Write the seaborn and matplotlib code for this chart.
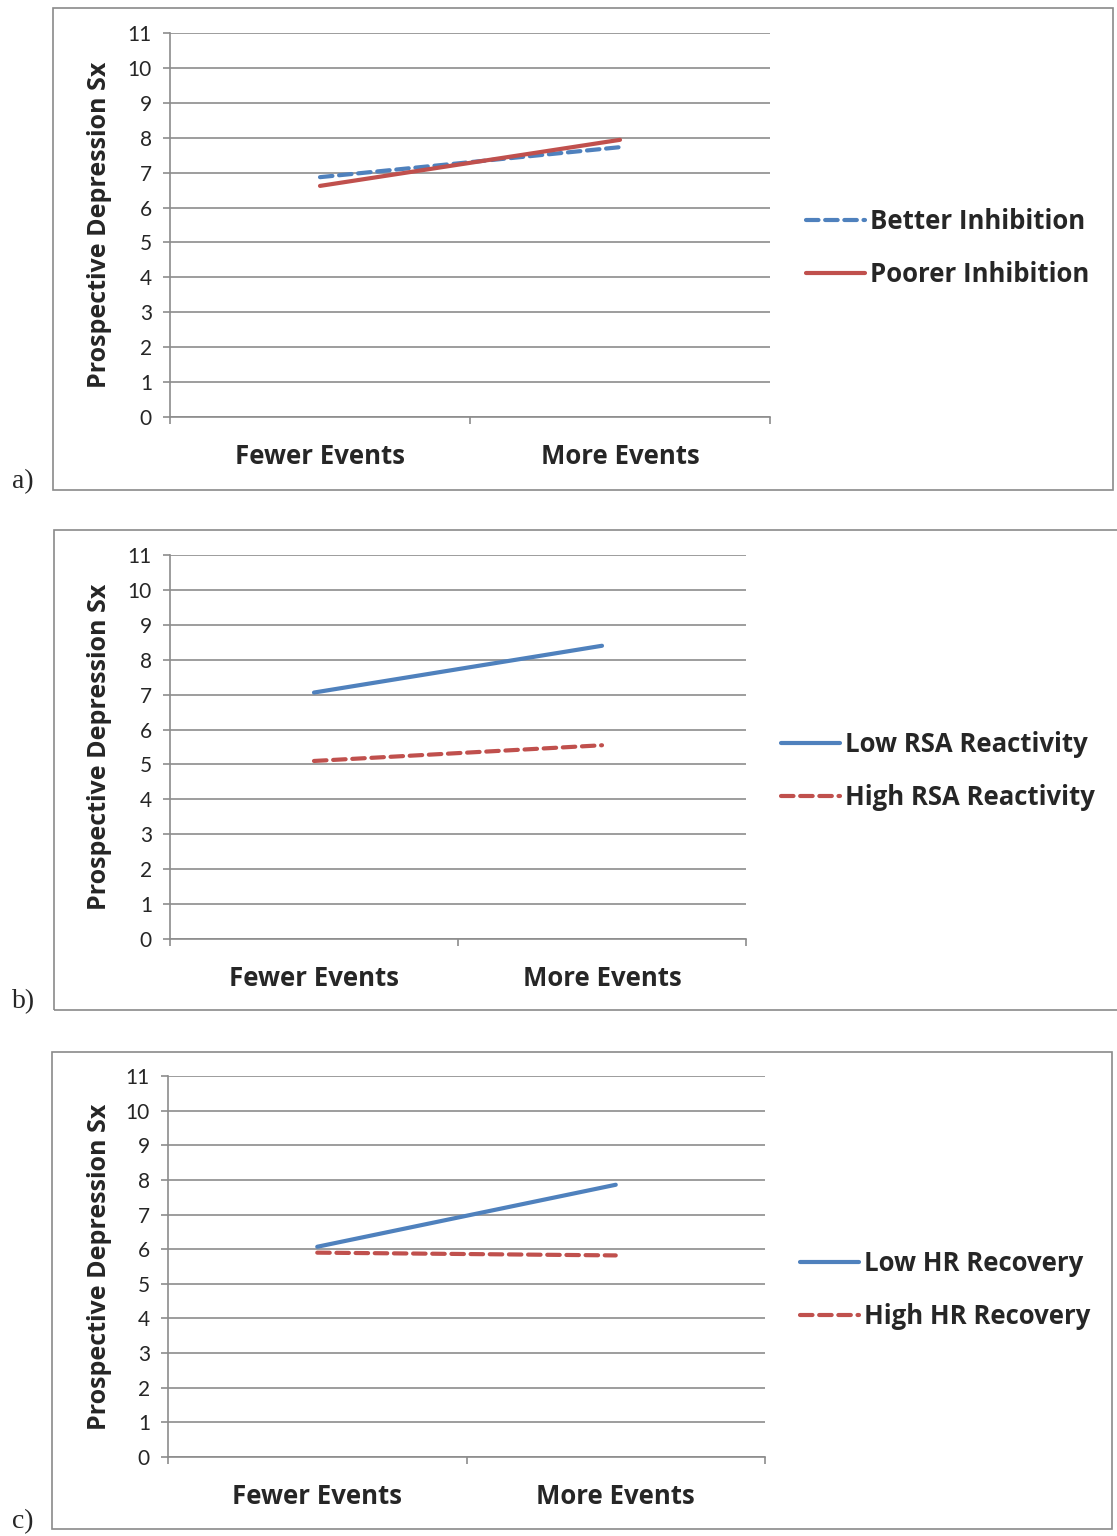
import matplotlib.pyplot as plt
import seaborn as sns
import pandas as pd
from matplotlib.patches import Rectangle

# figure size in pixels
W, H = 1117, 1536

# data
events = ["Fewer Events", "More Events"]

inhib_names = ["Better Inhibition", "Poorer Inhibition"]
inhib_better = [6.87, 7.73]
inhib_poorer = [6.62, 7.94]

rsa_names = ["Low RSA Reactivity", "High RSA Reactivity"]
rsa_low = [7.06, 8.40]
rsa_high = [5.10, 5.55]

hr_names = ["Low HR Recovery", "High HR Recovery"]
hr_low = [6.07, 7.86]
hr_high = [5.90, 5.82]

y_ticks = list(range(0, 12))

BLUE = "#4F81BD"
RED = "#C0504D"
GRID = "#8c8c8c"
DASH = (3.0, 1.6)
BOLD_FONT = ['Open Sans', 'DejaVu Sans']
BOLD_SIZE = 18.5

sns.set_style("white")
plt.rcParams['font.family'] = ['Lato', 'DejaVu Sans']


def px_box(l, t, r, b):
    # pixel box -> figure fraction [left, bottom, width, height]
    return [l / W, 1 - b / H, (r - l) / W, (b - t) / H]


def draw_panel(fig, letter, names, series, styles, axes_px, border_px, legend_px, letter_px, label_x):
    # outer frame of the chart
    l, t, r, b = border_px
    fig.add_artist(Rectangle((l / W, 1 - b / H), (r - l) / W, (b - t) / H, fill=False,
                             edgecolor="#8a8a8a", linewidth=1.2, transform=fig.transFigure))

    ax = fig.add_axes(px_box(*axes_px))

    df = pd.DataFrame({
        "events": events * 2,
        "value": series[0] + series[1],
        "group": [names[0]] * 2 + [names[1]] * 2,
    })
    dashes = {n: (DASH if s == "dash" else "") for n, s in zip(names, styles)}
    sns.lineplot(data=df, x="events", y="value", hue="group", style="group",
                 palette=[BLUE, RED], dashes=dashes, linewidth=3.0,
                 legend=False, ax=ax, sort=False)
    for line in ax.get_lines():
        line.set_dash_capstyle("round")
        line.set_solid_capstyle("round")

    ax.set_xlim(-0.5, 1.5)
    ax.set_ylim(0, 11)
    ax.set_yticks(y_ticks)
    ax.set_xticks([-0.5, 0.5, 1.5], minor=True)
    ax.grid(axis='y', color=GRID, linewidth=1.2)
    ax.set_axisbelow(True)

    # axis styling
    for side in ["top", "right"]:
        ax.spines[side].set_visible(False)
    for side in ["left", "bottom"]:
        ax.spines[side].set_color(GRID)
        ax.spines[side].set_linewidth(1.2)
    ax.tick_params(axis='y', which='major', direction='out', length=5, width=1.2,
                   color=GRID, labelsize=15, pad=8, left=True)
    ax.tick_params(axis='x', which='major', length=0, pad=19)
    ax.tick_params(axis='x', which='minor', direction='out', length=5, width=1.2,
                   color=GRID, bottom=True)
    for lab in ax.get_xticklabels():
        lab.set_fontweight('bold')
        lab.set_family(BOLD_FONT)
        lab.set_fontsize(BOLD_SIZE)

    ax.set_xlabel("")
    ax.set_ylabel("Prospective Depression Sx", fontsize=BOLD_SIZE - 0.5, fontweight='bold',
                  family=BOLD_FONT)
    ax.yaxis.set_label_coords(label_x, 0.5)

    # legend on the right
    ax.legend(ax.get_lines(), names, loc='center left',
              bbox_to_anchor=(legend_px[0] / W, 1 - legend_px[1] / H),
              bbox_transform=fig.transFigure, frameon=False,
              prop=dict(weight='bold', size=BOLD_SIZE, family=BOLD_FONT), handlelength=2.3,
              handletextpad=0.2, labelspacing=1.0, borderpad=0, borderaxespad=0)

    # panel letter
    fig.text(letter_px[0] / W, 1 - letter_px[1] / H, letter, family='Liberation Serif',
             fontsize=20, va='bottom', ha='left')
    return ax


fig = plt.figure(figsize=(W / 100, H / 100), dpi=100)

draw_panel(fig, "a)", inhib_names, [inhib_better, inhib_poorer], ["dash", "solid"],
           axes_px=(170, 33, 770, 417), border_px=(53, 8, 1113, 490),
           legend_px=(806, 248), letter_px=(12, 494), label_x=(112 - 170) / 600)

draw_panel(fig, "b)", rsa_names, [rsa_low, rsa_high], ["solid", "dash"],
           axes_px=(170, 555, 746, 939), border_px=(54, 530, 1125, 1010),
           legend_px=(781, 771), letter_px=(12, 1014), label_x=(112 - 170) / 576)

draw_panel(fig, "c)", hr_names, [hr_low, hr_high], ["solid", "dash"],
           axes_px=(168, 1076, 765, 1457), border_px=(52, 1052, 1112, 1529),
           legend_px=(800, 1290), letter_px=(12, 1534), label_x=(112 - 168) / 597)

fig.savefig("out.png", dpi=100)
